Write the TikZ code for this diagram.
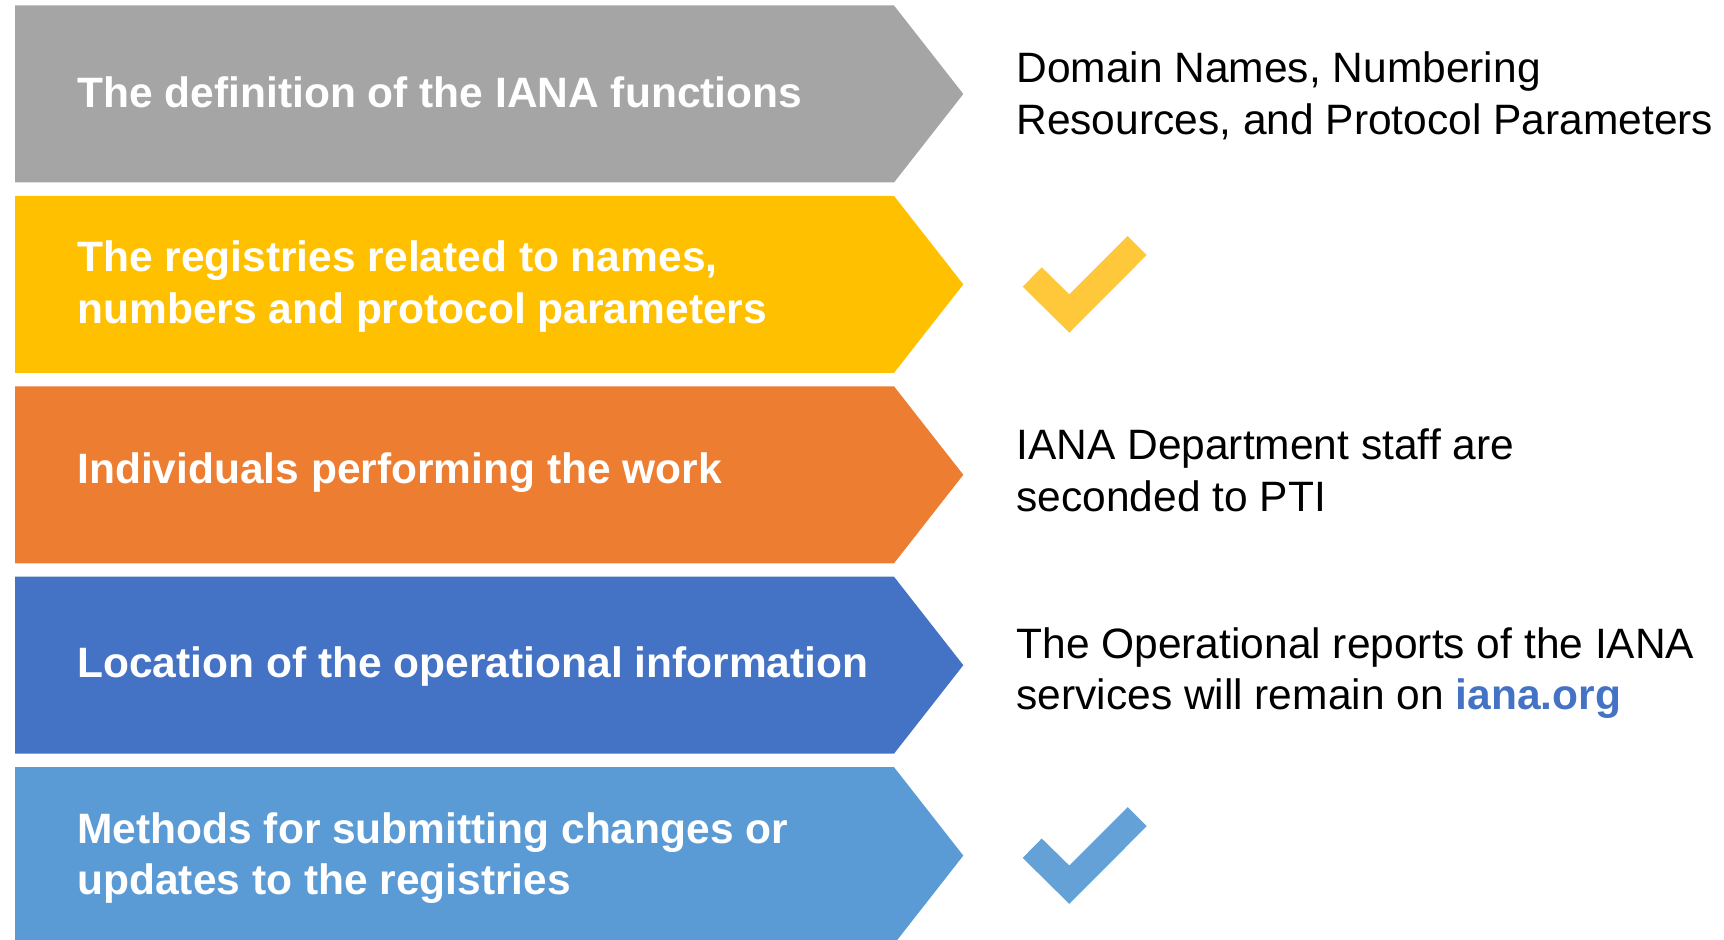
\documentclass[tikz,border=0pt]{standalone}
\usepackage{fontspec}
\setmainfont{Liberation Sans}
\usetikzlibrary{positioning}
\definecolor{bandgray}{HTML}{A5A5A5}
\definecolor{bandyellow}{HTML}{FFC000}
\definecolor{bandorange}{HTML}{ED7D31}
\definecolor{bandblue}{HTML}{4472C4}
\definecolor{bandlightblue}{HTML}{5B9BD5}
\definecolor{checkyellow}{HTML}{FFC83A}
\definecolor{checkblue}{HTML}{63A1D7}
\tikzset{%
    bandtext/.style={anchor=base west, align=left, inner sep=0pt, text=white, font=\fontsize{21.25}{25.85}\selectfont\bfseries},
    sidetext/.style={anchor=base west, align=left, inner sep=0pt, text=black, font=\fontsize{21.25}{25.85}\selectfont},
    %checkmark/.style={draw=none}
}

\begin{document}
\begin{tikzpicture}[x=0.5pt, y=-0.5pt]

	% frame
	\useasboundingbox (0,0) rectangle (1724,940);

	% bands
	\newcommand{\bt}{5.5}
	\fill[bandgray] (15,\bt) -- (894,\bt) -- (963.3,{\bt+88.5}) -- (894,{\bt+177}) -- (15,{\bt+177}) -- cycle;
	\renewcommand{\bt}{195.9}
	\fill[bandyellow] (15,\bt) -- (894,\bt) -- (963.3,{\bt+88.5}) -- (894,{\bt+177}) -- (15,{\bt+177}) -- cycle;
	\renewcommand{\bt}{386.3}
	\fill[bandorange] (15,\bt) -- (894,\bt) -- (963.3,{\bt+88.5}) -- (894,{\bt+177}) -- (15,{\bt+177}) -- cycle;
	\renewcommand{\bt}{576.7}
	\fill[bandblue] (15,\bt) -- (894,\bt) -- (963.3,{\bt+88.5}) -- (894,{\bt+177}) -- (15,{\bt+177}) -- cycle;
	\renewcommand{\bt}{767.1}
	\fill[bandlightblue] (15,\bt) -- (894,\bt) -- (963.3,{\bt+88.5}) -- (894,{\bt+177}) -- (15,{\bt+177}) -- cycle;

	% band labels (base = last line)
	\node[bandtext] (definition) at (77,107.3) {The definition of the IANA functions};
	\node[bandtext] (registries) at (77,323.6) {The registries related to names,\\numbers and protocol parameters};
	\node[bandtext] (individuals) at (77,483.7) {Individuals performing the work};
	\node[bandtext] (location) at (77,677.5) {Location of the operational information};
	\node[bandtext] (methods) at (77,894.8) {Methods for submitting changes or\\updates to the registries};

	% answers
	\node[sidetext] (domains) at (1016,134.7) {Domain Names, Numbering\\Resources, and Protocol Parameters};
	\node[sidetext] (staff) at (1016,511.7) {IANA Department staff are\\seconded to PTI};
	\node[sidetext] (reports) at (1016,709.7) {The Operational reports of the IANA\\services will remain on {\color{bandblue}\bfseries iana.org}};

	% check marks
	\newcommand{\bc}{284.4}
	\fill[checkyellow] (1041.7,{\bc-17.1}) -- (1022.7,{\bc+2.3}) -- (1069.3,{\bc+48.3}) -- (1146.7,{\bc-29.4}) -- (1127.7,{\bc-48.4}) -- (1069.3,{\bc+9.9}) -- cycle;
	\renewcommand{\bc}{855.6}
	\fill[checkblue] (1041.7,{\bc-17.1}) -- (1022.7,{\bc+2.3}) -- (1069.3,{\bc+48.3}) -- (1146.7,{\bc-29.4}) -- (1127.7,{\bc-48.4}) -- (1069.3,{\bc+9.9}) -- cycle;

\end{tikzpicture}
\end{document}
